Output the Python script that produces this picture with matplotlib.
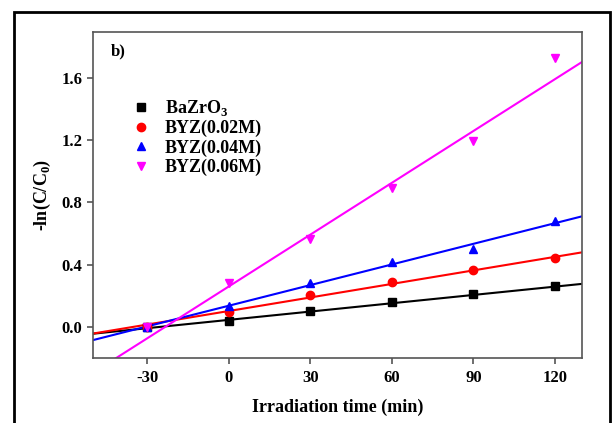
import numpy as np
import matplotlib
matplotlib.use('Agg')
import matplotlib.pyplot as plt
from matplotlib.patches import Rectangle

time = [-30, 0, 30, 60, 90, 120]
bazro3 = [0.0, 0.04, 0.10, 0.16, 0.21, 0.26]
byz002 = [0.0, 0.095, 0.205, 0.29, 0.365, 0.44]
byz004 = [0.0, 0.135, 0.28, 0.415, 0.50, 0.68]
byz006 = [0.0, 0.28, 0.565, 0.89, 1.195, 1.73]

# linear fits (slope, intercept)
fit_slopes = [0.00178, 0.0029, 0.00442, 0.0111]
fit_intercepts = [0.045, 0.102, 0.136, 0.26]

labels = ['BaZrO$_\\mathbf{3}$', 'BYZ(0.02M)', 'BYZ(0.04M)', 'BYZ(0.06M)']
colors = ['black', '#ff0000', '#0000ff', '#ff00ff']
markers = ['s', 'o', '^', 'v']
series = [bazro3, byz002, byz004, byz006]

plt.rcParams['font.family'] = ['Liberation Serif', 'DejaVu Serif']
plt.rcParams['font.weight'] = 'bold'
plt.rcParams['axes.unicode_minus'] = False
plt.rcParams['mathtext.fontset'] = 'custom'
plt.rcParams['mathtext.rm'] = 'Liberation Serif:bold'
plt.rcParams['mathtext.bf'] = 'Liberation Serif:bold'

fig = plt.figure(figsize=(6.16, 4.23), dpi=100)
ax = fig.add_axes([0.151, 0.1537, 0.794, 0.7706])

xfit = np.array([-50, 130])
for y, s, b, c, m, lab in zip(series, fit_slopes, fit_intercepts, colors, markers, labels):
    ax.plot(xfit, s * xfit + b, color=c, lw=1.5, zorder=2)
    ax.plot(time, y, linestyle='none', marker=m, color=c, markersize=6, label=lab, zorder=3)

ax.set_xlim(-50, 130)
ax.set_ylim(-0.2, 1.895)
ax.set_xticks([-30, 0, 30, 60, 90, 120])
ax.set_yticks([0.0, 0.4, 0.8, 1.2, 1.6])
ax.set_yticklabels(['0.0', '0.4', '0.8', '1.2', '1.6'])
ax.tick_params(direction='out', length=4, width=1.2, color='#555555', labelsize=12, top=False, right=False)
ax.tick_params(axis='x', pad=5)
for sp in ax.spines.values():
    sp.set_color('#555555')
    sp.set_linewidth(1.2)

ax.set_xlabel('Irradiation time (min)', fontsize=13, fontweight='bold', labelpad=9)
ax.set_ylabel('-ln(C/C$_\\mathbf{0}$)', fontsize=13, fontweight='bold', labelpad=6)
ax.text(0.036, 0.966, 'b)', transform=ax.transAxes, fontsize=12, fontweight='bold', va='top')

leg = ax.legend(loc='upper left', bbox_to_anchor=(0.065, 0.82), frameon=False, fontsize=13,
                handletextpad=0.8, labelspacing=0.12, handlelength=1.0, borderaxespad=0)

fig.patches.append(Rectangle((0.0227, -0.02), 0.967, 0.9916, transform=fig.transFigure,
                             fill=False, edgecolor='black', lw=2))

fig.savefig('out.png', dpi=100)
